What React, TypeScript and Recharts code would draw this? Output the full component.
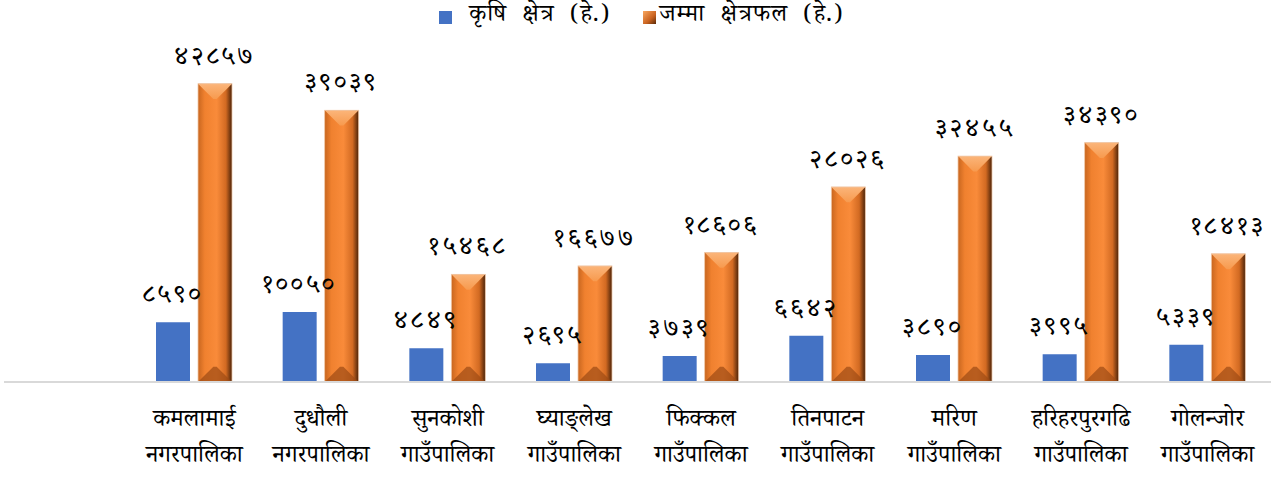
import { Bar, BarChart, LabelList, Legend, XAxis, YAxis } from "recharts";

const places = [
	"कमलामाई नगरपालिका",
	"दुधौली नगरपालिका",
	"सुनकोशी गाउँपालिका",
	"घ्याङ्लेख गाउँपालिका",
	"फिक्कल गाउँपालिका",
	"तिनपाटन गाउँपालिका",
	"मरिण गाउँपालिका",
	"हरिहरपुरगढि गाउँपालिका",
	"गोलन्जोर गाउँपालिका",
];
const krishi = [8590, 10050, 4849, 2695, 3739, 6642, 3890, 3995, 5339];
const jamma = [42857, 39039, 15468, 16677, 18606, 28026, 32455, 34390, 18413];

const data = places.map((name, i) => ({ name, krishi: krishi[i], jamma: jamma[i] }));

const devDigits = "०१२३४५६७८९";
const toNepali = (v: any) => String(v).replace(/[0-9]/g, (d) => devDigits[Number(d)]);

const font = "'Noto Serif Devanagari', 'Noto Sans Devanagari', 'Lohit Devanagari', serif";

const BevelBar = (props: any) => {
	const { x, y, width, height } = props;
	if (!height || height <= 0) return null;
	const b = Math.min(width * 0.45, height / 2);
	return (
		<g>
			<rect x={x} y={y} width={width} height={height} fill="url(#orangeBody)" />
			<polygon
				points={`${x},${y} ${x + width},${y} ${x + width - b},${y + b} ${x + b},${y + b}`}
				fill="url(#orangeTop)"
			/>
			<polygon
				points={`${x},${y + height} ${x + width},${y + height} ${x + width - b},${y + height - b} ${x + b},${y + height - b}`}
				fill="#9c4a14"
				opacity={0.7}
			/>
			<rect x={x} y={y} width={width} height={height} fill="none" stroke="#f0c8a8" strokeWidth={0.8} />
		</g>
	);
};

const Tick = (props: any) => {
	const { x, y, payload } = props;
	const [a, b] = String(payload.value).split(" ");
	return (
		<text x={x} y={y} textAnchor="middle" fontSize={24} fill="#000" fontFamily={font}>
			<tspan x={x} dy={36}>{a}</tspan>
			<tspan x={x} dy={36}>{b}</tspan>
		</text>
	);
};

const LegendBox = () => (
	<div
		style={{
			height: 34,
			display: "flex",
			justifyContent: "center",
			alignItems: "center",
			fontFamily: font,
			fontSize: 24,
			letterSpacing: 1,
			wordSpacing: 8,
			color: "#000",
			marginLeft: 8,
		}}
	>
		<span style={{ width: 13, height: 13, background: "#4472C4", marginRight: 17 }} />
		<span style={{ marginRight: 32 }}>कृषि क्षेत्र (हे.)</span>
		<span
			style={{
				width: 13,
				height: 13,
				background: "linear-gradient(135deg, #f9a860, #c9621f 60%, #5a2a08)",
				marginRight: 4,
			}}
		/>
		<span>जम्मा क्षेत्रफल (हे.)</span>
	</div>
);

const labelStyle = { fontSize: 26, fill: "#000", fontFamily: font, letterSpacing: 3, fontWeight: 400 };

const App = () => {
	return (
		<div style={{ position: "absolute", left: 0, top: 0, width: 1278, height: 477, background: "#fff" }}>
			<BarChart
				width={1278}
				height={477}
				data={data}
				margin={{ top: 0, right: 7, left: 4, bottom: 0 }}
				barSize={34}
				barGap={8}
			>
				<defs>
					<linearGradient id="orangeBody" x1="0" y1="0" x2="1" y2="0">
						<stop offset="0%" stopColor="#c8661f" />
						<stop offset="20%" stopColor="#f0812f" />
						<stop offset="55%" stopColor="#f98b3a" />
						<stop offset="82%" stopColor="#d26a22" />
						<stop offset="100%" stopColor="#4a2208" />
					</linearGradient>
					<linearGradient id="orangeTop" x1="0" y1="0" x2="0" y2="1">
						<stop offset="0%" stopColor="#fbb57a" />
						<stop offset="100%" stopColor="#f79a4e" />
					</linearGradient>
				</defs>
				<Legend verticalAlign="top" content={<LegendBox />} />
				<XAxis
					dataKey="name"
					padding={{ left: 127, right: 0 }}
					axisLine={{ stroke: "#D9D9D9", strokeWidth: 2 }}
					tickLine={false}
					tick={<Tick />}
					interval={0}
					height={95}
				/>
				<YAxis hide domain={[0, 50000]} />
				<Bar dataKey="krishi" name="कृषि क्षेत्र (हे.)" fill="#4472C4" isAnimationActive={false}>
					<LabelList dataKey="krishi" position="top" offset={20} formatter={toNepali} style={labelStyle} />
				</Bar>
				<Bar dataKey="jamma" name="जम्मा क्षेत्रफल (हे.)" shape={<BevelBar />} isAnimationActive={false}>
					<LabelList dataKey="jamma" position="top" offset={20} formatter={toNepali} style={labelStyle} />
				</Bar>
			</BarChart>
		</div>
	);
};

export default App;
